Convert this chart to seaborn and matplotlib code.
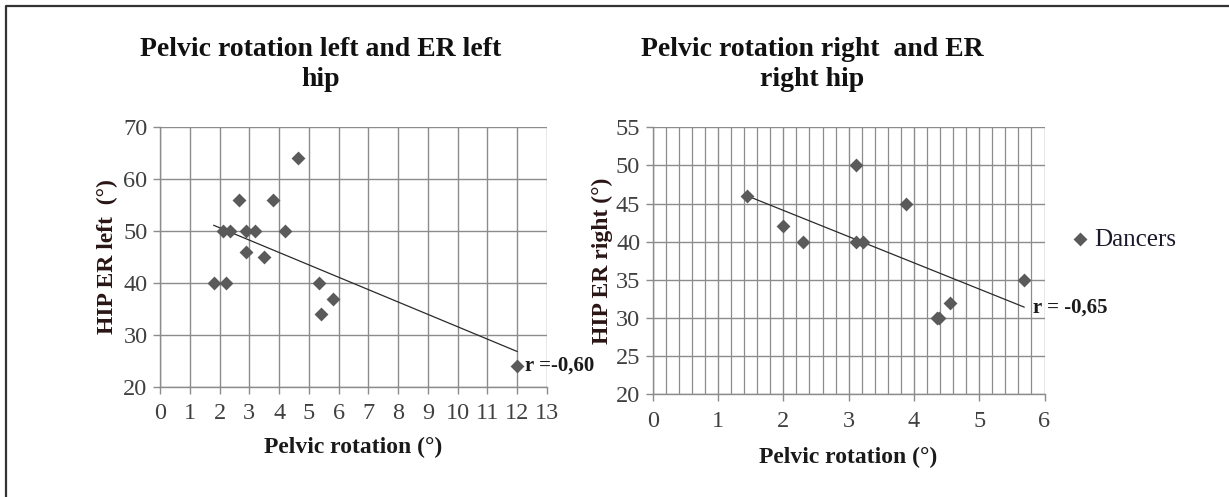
import numpy as np
import pandas as pd
import matplotlib
matplotlib.use("Agg")
import matplotlib.pyplot as plt
from matplotlib.lines import Line2D
from matplotlib.ticker import MultipleLocator
import seaborn as sns

# left hip: pelvic rotation (deg) vs external rotation (deg)
left_rot = [1.8, 2.2, 2.1, 2.35, 2.65, 2.9, 3.2, 2.9, 3.5, 3.8, 4.2, 4.65, 5.35, 5.4, 5.8, 12.0]
left_er = [40, 40, 50, 50, 56, 50, 50, 46, 45, 56, 50, 64, 40, 34, 37, 24]
left_r = "r =-0,60"

# right hip
right_rot = [1.45, 2.0, 2.3, 3.12, 3.12, 3.22, 3.88, 4.35, 4.38, 4.55, 5.69]
right_er = [46, 42, 40, 50, 40, 40, 45, 30, 30, 32, 35]
right_r = "r = -0,65"

left_df = pd.DataFrame({"rot": left_rot, "er": left_er})
right_df = pd.DataFrame({"rot": right_rot, "er": right_er})

sns.set_style("white")
plt.rcParams["font.family"] = ["Liberation Serif", "DejaVu Serif"]

fig = plt.figure(figsize=(12.29, 4.97), dpi=100)
ax1 = fig.add_axes([0.1302, 0.2219, 0.3149, 0.522])
ax2 = fig.add_axes([0.5311, 0.2066, 0.3188, 0.5373])

grid_col = "#8c8c8c"
pt_col = "#5a5a5a"
tick_col = "#404040"

def style_axis(ax):
    for s in ["top", "right"]:
        ax.spines[s].set_visible(False)
    for s in ["left", "bottom"]:
        ax.spines[s].set_color(grid_col)
        ax.spines[s].set_linewidth(1)
    ax.grid(True, which="major", color=grid_col, linewidth=1)
    ax.tick_params(axis="both", which="major", direction="out", length=5,
                   width=1, color=grid_col, labelsize=17.5, labelcolor=tick_col,
                   left=True, bottom=True)
    ax.tick_params(axis="x", which="major", pad=7)
    ax.tick_params(axis="y", which="major", pad=4)
    ax.set_axisbelow(True)

# left chart
sns.scatterplot(data=left_df, x="rot", y="er", marker="D", s=50, color=pt_col,
                edgecolor=pt_col, linewidth=0, ax=ax1, zorder=3)
sns.regplot(data=left_df, x="rot", y="er", scatter=False, ci=None, truncate=True,
            line_kws={"color": "#2a2a2a", "linewidth": 0.9}, ax=ax1)
ax1.set_xlim(0, 13)
ax1.set_ylim(20, 70)
ax1.xaxis.set_major_locator(MultipleLocator(1))
ax1.yaxis.set_major_locator(MultipleLocator(10))
style_axis(ax1)
ax1.set_xlabel("Pelvic rotation (°)", fontsize=17, fontweight="bold", color="#1a1a1a", labelpad=9)
ax1.set_ylabel("HIP ER left  (°)", fontsize=17, fontweight="bold", color="#2a1515", labelpad=4)
ax1.text(12.25, 24, left_r, fontsize=15, fontweight="bold", va="center", ha="left",
         color="#1a1a1a", clip_on=False)

# right chart
sns.scatterplot(data=right_df, x="rot", y="er", marker="D", s=50, color=pt_col,
                edgecolor=pt_col, linewidth=0, ax=ax2, zorder=3, label="Dancers")
sns.regplot(data=right_df, x="rot", y="er", scatter=False, ci=None, truncate=True,
            line_kws={"color": "#2a2a2a", "linewidth": 0.9}, ax=ax2)
ax2.set_xlim(0, 6)
ax2.set_ylim(20, 55)
ax2.xaxis.set_major_locator(MultipleLocator(1))
ax2.xaxis.set_minor_locator(MultipleLocator(0.2))
ax2.yaxis.set_major_locator(MultipleLocator(5))
style_axis(ax2)
ax2.grid(True, which="minor", axis="x", color=grid_col, linewidth=0.9)
ax2.tick_params(axis="x", which="minor", length=0)
ax2.set_xlabel("Pelvic rotation (°)", fontsize=17, fontweight="bold", color="#1a1a1a", labelpad=11)
ax2.set_ylabel("HIP ER right (°)", fontsize=17, fontweight="bold", color="#2a1515", labelpad=2)
ax2.text(5.82, 31.4, right_r, fontsize=15, fontweight="bold", va="center", ha="left",
         color="#1a1a1a", clip_on=False)

handles, labels = ax2.get_legend_handles_labels()
ax2.get_legend().remove()
fig.legend(handles, labels, loc="center left", bbox_to_anchor=(0.852, 0.518),
           frameon=False, fontsize=18, handlelength=0.8, handletextpad=0.2,
           labelcolor="#1a1a2a")

# titles
fig.text(0.261, 0.87, "Pelvic rotation left and ER left\nhip", ha="center", va="center",
         fontsize=20, fontweight="bold", linespacing=1.3, color="#111111")
fig.text(0.661, 0.87, "Pelvic rotation right  and ER\nright hip", ha="center", va="center",
         fontsize=20, fontweight="bold", linespacing=1.3, color="#111111")

# frame around the figure (top and left edges visible)
fig.add_artist(Line2D([6 / 1229, 6 / 1229, 1.0], [0.0, 1 - 6 / 497, 1 - 6 / 497],
                      transform=fig.transFigure, color="#333333", linewidth=1.6))

fig.savefig("out.png", dpi=100)
